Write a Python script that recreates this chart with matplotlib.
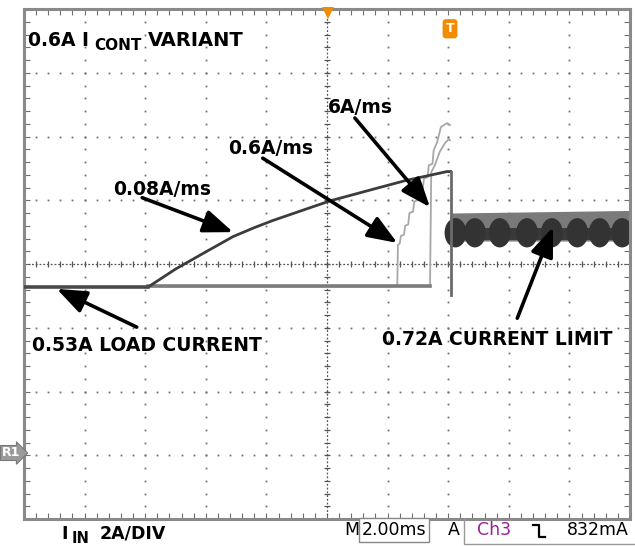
"""
Scope capture: input current vs load step slew rate, 0.6A I_CONT variant.
Units are screen divisions (10 x 8), 2 ms/div and 2 A/div.
"""
import numpy as np
import matplotlib.pyplot as plt
from matplotlib.patches import Ellipse
from matplotlib.lines import Line2D

W, H = 635, 546

# common baseline (0.53A load) before any step
base_x = [0.0, 2.05]
base_y = [-0.36, -0.36]

# 0.08A/ms ramp (dark trace)
slow_x = [2.05, 2.50, 3.00, 3.45, 3.80, 4.10, 4.65, 5.05, 5.75, 6.30, 6.98, 7.04]
slow_y = [-0.36, -0.08, 0.19, 0.43, 0.57, 0.68, 0.86, 0.99, 1.17, 1.31, 1.45, 1.45]

# 0.6A/ms ramp (light trace, staircase)
mid_x = [2.05, 6.16, 6.17, 6.20, 6.22, 6.27, 6.29, 6.34, 6.36, 6.42, 6.44, 6.50,
         6.52, 6.58, 6.60, 6.66, 6.68, 6.74, 6.76, 6.82, 6.88, 6.98, 7.03]
mid_y = [-0.35, -0.35, 0.30, 0.32, 0.44, 0.46, 0.60, 0.62, 0.80, 0.82, 0.98, 1.00,
         1.16, 1.18, 1.34, 1.36, 1.55, 1.57, 1.78, 1.92, 2.15, 2.21, 2.18]

# 6A/ms step (light trace)
fast_x = [2.05, 6.70, 6.72, 6.78, 6.86, 6.95, 7.01, 7.03]
fast_y = [-0.35, -0.35, 1.44, 1.55, 1.76, 1.90, 1.96, 1.94]

# release spike when the limit kicks in
spike_x = [7.05, 7.05]
spike_y = [1.45, -0.49]

# 0.72A current limit region
lim_x = [7.06, 10.0]
lim_top = [0.80, 0.84]
lim_bot = [0.36, 0.36]
blob_x = [7.12, 7.44, 7.85, 8.30, 8.71, 9.13, 9.50, 9.87]
blob_y = 0.49

fig = plt.figure(figsize=(W / 100, H / 100), dpi=100)
ax = fig.add_axes([24 / W, 1 - 519 / H, 606 / W, 510 / H])
ax.set_xlim(0, 10)
ax.set_ylim(-4, 4)

# graticule
dots = np.arange(0, 10.01, 0.2)
dots_v = np.arange(-4, 4.01, 0.2)
for gx in range(1, 10):
    if gx != 5:
        ax.plot(np.full_like(dots_v, gx), dots_v, ls="none", marker="s", ms=1.3, color="#707070", mew=0)
for gy in range(-3, 4):
    if gy != 0:
        ax.plot(dots, np.full_like(dots, gy), ls="none", marker="s", ms=1.3, color="#707070", mew=0)
ax.axhline(0, color="#555555", lw=0.9, ls=(0, (1.5, 1.5)))
ax.axvline(5, color="#555555", lw=0.9, ls=(0, (1.5, 1.5)))
ax.plot(dots, np.zeros_like(dots), ls="none", marker="|", ms=5, color="#555555", mew=0.9)
ax.plot(np.full_like(dots_v, 5), dots_v, ls="none", marker="_", ms=5, color="#555555", mew=0.9)

ax.set_xticks(np.arange(0, 10.01, 0.2))
ax.set_yticks(np.arange(-4, 4.01, 0.2))
ax.tick_params(direction="in", length=4, width=0.8, color="#707070",
               top=True, right=True, labelleft=False, labelbottom=False)
for s in ax.spines.values():
    s.set_color("#8a8a8a")
    s.set_linewidth(2.2)

# traces
ax.fill_between(lim_x, lim_bot, lim_top, color="#7a7a7a", lw=0, zorder=2)
ax.fill_between(lim_x, [0.38, 0.38], [0.56, 0.56], color="#3a3a3a", lw=0, zorder=2)
for bx in blob_x:
    ax.add_patch(Ellipse((bx, blob_y), 0.36, 0.46, color="#333333", lw=0, zorder=2))
ax.plot(mid_x, mid_y, color="#a8a8a8", lw=1.3, zorder=3)
ax.plot(fast_x, fast_y, color="#a8a8a8", lw=1.3, zorder=3)
ax.plot([2.05, 6.70], [-0.35, -0.35], color="#7c7c7c", lw=2.6, zorder=3)
ax.plot(slow_x, slow_y, color="#3c3c3c", lw=2.0, zorder=4)
ax.plot(base_x, base_y, color="#4a4a4a", lw=2.6, zorder=4)
ax.plot(spike_x, spike_y, color="#6a6a6a", lw=2.0, zorder=4)

# labels and arrows
lab = dict(fontsize=13.5, fontweight="bold", family="DejaVu Sans", va="baseline", ha="left", zorder=6)
ax.text(0.07, 3.42, "0.6A I", **lab)
ax.text(1.16, 3.36, "CONT", **{**lab, "fontsize": 11})
ax.text(2.05, 3.42, "VARIANT", **{**lab, "fontsize": 14})
ax.text(1.47, 1.08, "0.08A/ms", **lab)
ax.text(3.37, 1.73, "0.6A/ms", **lab)
ax.text(5.02, 2.37, "6A/ms", **lab)
ax.text(0.13, -1.36, "0.53A LOAD CURRENT", **lab)
ax.text(5.91, -1.27, "0.72A CURRENT LIMIT", **lab)

arrows = [((1.95, 1.04), (3.45, 0.50)),
          ((3.94, 1.66), (6.16, 0.33)),
          ((5.46, 2.29), (6.70, 0.89)),
          ((1.86, -0.99), (0.54, -0.39)),
          ((8.14, -0.85), (8.73, 0.58))]
for tail, head in arrows:
    ax.annotate("", xy=head, xytext=tail, zorder=6,
                arrowprops=dict(arrowstyle="-|>,head_length=0.9,head_width=0.35",
                                mutation_scale=20, lw=2.6, color="black",
                                shrinkA=0, shrinkB=0))

# scope markers
ax.plot(5.02, 3.93, marker="v", ms=9, color="#f28c00", mew=0, clip_on=False, zorder=7)
ax.text(7.03, 3.69, "T", color="white", fontsize=9, fontweight="bold", ha="center", va="center",
        bbox=dict(boxstyle="round,pad=0.25", fc="#f28c00", ec="none"), zorder=7)
fig.text(1.5 / W, 1 - 453 / H, "R1", color="white", fontsize=9, fontweight="bold", va="center",
         bbox=dict(boxstyle="rarrow,pad=0.08", fc="#9a9a9a", ec="#777777", lw=0.8))

# readout line under the screen
def fx(px):
    return px / W


def fy(py):
    return 1 - py / H


bold = dict(fontweight="bold", va="baseline", ha="left")
fig.text(fx(61), fy(539), "I", fontsize=12.5, **bold)
fig.text(fx(72), fy(543), "IN", fontsize=10.5, **bold)
fig.text(fx(100), fy(539), "2A/DIV", fontsize=12.5, **bold)

reg = dict(fontsize=12.5, va="center", ha="left")
fig.text(fx(344), fy(530), "M", **reg)
fig.text(fx(362), fy(530), "2.00ms", **reg,
         bbox=dict(boxstyle="square,pad=0.15", fc="white", ec="#888888", lw=1))
fig.text(fx(448), fy(530), "A", **reg)
fig.text(fx(477), fy(530), "Ch3", color="#9a1f9a", **reg)
fig.text(fx(567), fy(530), "832mA", **reg)
fig.add_artist(Line2D([fx(533), fx(539), fx(539), fx(545)], [fy(525), fy(525), fy(537), fy(537)],
                      color="black", lw=1.6))
fig.add_artist(Line2D([fx(464), fx(464), fx(634)], [fy(519), fy(544), fy(544)],
                      color="#999999", lw=1))

fig.savefig("out.png", dpi=100)
